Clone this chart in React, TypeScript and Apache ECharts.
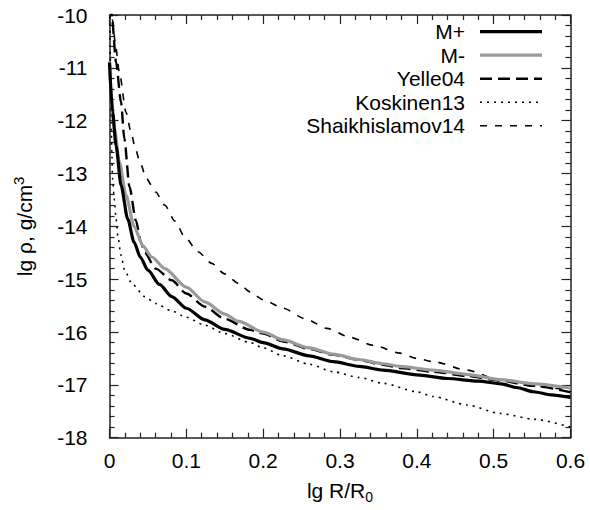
import React, { useEffect, useRef } from "react";
import * as echarts from "echarts";

// ---- data (lg R/R0, lg rho) ----
const seriesNames = ["M+", "M-", "Yelle04", "Koskinen13", "Shaikhislamov14"];

const mPlus: [number, number][] = [
  [0, -10.9], [0.004, -11.84], [0.0085, -12.47], [0.015, -13.22], [0.0237, -13.86],
  [0.032, -14.3], [0.04, -14.58], [0.05, -14.83], [0.065, -15.1], [0.081, -15.33],
  [0.1, -15.55], [0.124, -15.77], [0.15, -15.95], [0.183, -16.12], [0.2, -16.2],
  [0.226, -16.32], [0.26, -16.45], [0.291, -16.56], [0.325, -16.65], [0.356, -16.72],
  [0.4, -16.81], [0.44, -16.88], [0.48, -16.93], [0.51, -16.98], [0.53, -17.05],
  [0.552, -17.13], [0.575, -17.19], [0.6, -17.24],
];

const mMinus: [number, number][] = [
  [0, -10.88], [0.002, -11.5], [0.0063, -12.15], [0.0128, -12.78], [0.0215, -13.41],
  [0.032, -14.0], [0.043, -14.36], [0.055, -14.58], [0.072, -14.8], [0.1, -15.15],
  [0.124, -15.43], [0.15, -15.66], [0.168, -15.8], [0.2, -16.0], [0.226, -16.15],
  [0.26, -16.3], [0.291, -16.42], [0.325, -16.52], [0.356, -16.6], [0.378, -16.65],
  [0.421, -16.72], [0.465, -16.8], [0.508, -16.9], [0.552, -16.98], [0.6, -17.06],
];

const yelle04: [number, number][] = [
  [0.002, -9.8], [0.0033, -10.07], [0.0085, -10.89], [0.015, -11.65], [0.0193, -12.34],
  [0.026, -13.25], [0.0345, -13.9], [0.041, -14.3], [0.046, -14.5], [0.06, -14.8],
  [0.081, -15.02], [0.1, -15.27], [0.124, -15.52], [0.15, -15.75], [0.183, -15.96],
  [0.2, -16.03], [0.226, -16.18], [0.26, -16.32], [0.291, -16.43], [0.325, -16.53],
  [0.356, -16.62], [0.378, -16.68], [0.421, -16.75], [0.465, -16.83], [0.508, -16.92],
  [0.552, -17.02], [0.6, -17.14],
];

const koskinen13: [number, number][] = [
  [0.0005, -9.9], [0.001, -10.8], [0.002, -11.9], [0.003, -12.6], [0.004, -13.1],
  [0.0063, -13.5], [0.0085, -13.86], [0.011, -14.2], [0.015, -14.55], [0.02, -14.85],
  [0.03, -15.1], [0.046, -15.33], [0.06, -15.46], [0.081, -15.6], [0.1, -15.72],
  [0.124, -15.87], [0.15, -16.03], [0.183, -16.2], [0.2, -16.3], [0.226, -16.45],
  [0.26, -16.61], [0.291, -16.75], [0.325, -16.86], [0.356, -16.97], [0.4, -17.13],
  [0.421, -17.22], [0.465, -17.38], [0.508, -17.54], [0.552, -17.65], [0.6, -17.8],
];

const shaikhislamov14: [number, number][] = [
  [0.002, -9.8], [0.004, -10.1], [0.008, -10.6], [0.013, -11.1], [0.0215, -11.84],
  [0.028, -12.21], [0.033, -12.49], [0.039, -12.75], [0.048, -13.1], [0.06, -13.35],
  [0.072, -13.6], [0.085, -13.9], [0.098, -14.2], [0.115, -14.48], [0.133, -14.7],
  [0.15, -14.9], [0.168, -15.08], [0.183, -15.24], [0.2, -15.39], [0.226, -15.55],
  [0.255, -15.75], [0.283, -15.93], [0.313, -16.1], [0.343, -16.25], [0.378, -16.4],
  [0.4, -16.5], [0.421, -16.56], [0.465, -16.72], [0.508, -16.91], [0.552, -17.02],
  [0.6, -17.11],
];

const seriesData = [mPlus, mMinus, yelle04, koskinen13, shaikhislamov14];

const styles = [
  { color: "#000000", width: 3.2, dash: "solid" as any },
  { color: "#9a9a9a", width: 3.2, dash: "solid" as any },
  { color: "#000000", width: 2.4, dash: [12, 6] as any },
  { color: "#000000", width: 1.6, dash: [2, 5] as any },
  { color: "#000000", width: 1.6, dash: [7, 8] as any },
];

const FONT = "'Liberation Sans', Arial, Helvetica, sans-serif";
const FS = 21;

export default function App() {
  const ref = useRef<HTMLDivElement>(null);
  useEffect(() => {
    if (!ref.current) return;
    const chart = echarts.init(ref.current, null, { renderer: "svg" });

    const axisLine = { onZero: false, lineStyle: { color: "#222", width: 1.5 } };
    const axisTick = { inside: true, length: 9, lineStyle: { color: "#222", width: 1.2 } };
    const minorTick = { show: true, splitNumber: 5, length: 5, lineStyle: { color: "#222", width: 1.2 } };

    const legendTop = 31.7;
    const legendStep = 23.5;
    const graphic: any[] = [];
    seriesNames.forEach((n, i) => {
      const y = legendTop + i * legendStep;
      graphic.push({
        type: "text",
        x: 465,
        y,
        style: {
          text: n,
          fill: "#000",
          font: `${FS}px ${FONT}`,
          align: "right",
          verticalAlign: "middle",
        },
      });
      const s = styles[i];
      graphic.push({
        type: "line",
        shape: { x1: 480, y1: y, x2: 542, y2: y },
        style: {
          stroke: s.color,
          lineWidth: s.width,
          lineDash: Array.isArray(s.dash) ? s.dash : null,
        },
      });
    });

    chart.setOption({
      animation: false,
      backgroundColor: "#fff",
      grid: { left: 109.5, right: 19.5, top: 15, bottom: 72.3, containLabel: false },
      xAxis: [
        {
          type: "value",
          min: 0,
          max: 0.6,
          interval: 0.1,
          position: "bottom",
          axisLine,
          axisTick,
          minorTick,
          splitLine: { show: false },
          axisLabel: { color: "#000", fontSize: FS, fontFamily: FONT, margin: 12 },
          name: "lg R/R{sub|0}",
          nameLocation: "middle",
          nameGap: 39,
          nameTextStyle: {
            color: "#000",
            fontSize: FS,
            fontFamily: FONT,
            rich: { sub: { fontSize: 14, fontFamily: FONT, color: "#000", padding: [13, 0, 0, 0] } },
          },
        },
        {
          type: "value",
          min: 0,
          max: 0.6,
          interval: 0.1,
          position: "top",
          axisLine,
          axisTick,
          minorTick,
          splitLine: { show: false },
          axisLabel: { show: false },
        },
      ],
      yAxis: [
        {
          type: "value",
          min: -18,
          max: -10,
          interval: 1,
          position: "left",
          axisLine,
          axisTick,
          minorTick,
          splitLine: { show: false },
          axisLabel: { color: "#000", fontSize: FS, fontFamily: FONT, margin: 22 },
          name: "lg ρ, g/cm{sup|3}",
          nameLocation: "middle",
          nameGap: 71,
          nameTextStyle: {
            color: "#000",
            fontSize: FS,
            fontFamily: FONT,
            rich: { sup: { fontSize: 15, fontFamily: FONT, color: "#000", padding: [0, 0, 13, 0] } },
          },
        },
        {
          type: "value",
          min: -18,
          max: -10,
          interval: 1,
          position: "right",
          axisLine,
          axisTick,
          minorTick,
          splitLine: { show: false },
          axisLabel: { show: false },
        },
      ],
      series: seriesNames.map((n, i) => ({
        name: n,
        type: "line",
        xAxisIndex: 0,
        yAxisIndex: 0,
        data: seriesData[i],
        showSymbol: false,
        symbol: "none",
        smooth: 0.25,
        smoothMonotone: "x",
        clip: true,
        z: 10 - i,
        lineStyle: { color: styles[i].color, width: styles[i].width, type: styles[i].dash },
      })),
      graphic,
    });
    return () => chart.dispose();
  }, []);
  return (
    <div
      ref={ref}
      style={{ position: "fixed", left: 0, top: 0, width: 590, height: 510, background: "#fff" }}
    />
  );
}
